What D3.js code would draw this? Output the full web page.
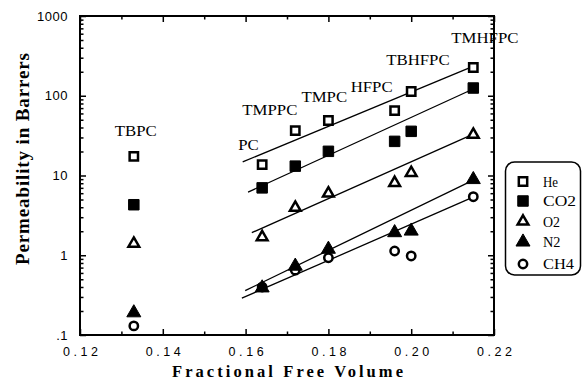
<!DOCTYPE html>
<html><head><meta charset="utf-8">
<script src="https://cdn.jsdelivr.net/npm/d3@7"></script>
<style>body{margin:0;background:#fff} svg{display:block}</style>
</head><body><svg id="c" width="582" height="383"></svg>
<script>
// ---- data ----
const polymers = ["TBPC", "PC", "TMPPC", "TMPC", "HFPC", "TBHFPC", "TMHFPC"];
const ffv  = [0.133, 0.164, 0.172, 0.180, 0.196, 0.200, 0.215];
const he   = [17.4, 13.7, 36.5, 49, 65, 113, 226];
const co2  = [4.3, 7.0, 13.1, 20.1, 26.8, 35.8, 125];
const o2   = [1.4, 1.69, 3.95, 5.96, 8.1, 10.8, 32.5];
const n2   = [0.19, 0.39, 0.73, 1.19, 1.92, 2.01, 8.9];
const ch4  = [0.13, 0.40, 0.65, 0.93, 1.13, 0.98, 5.42];
const gases = ["He", "CO2", "O2", "N2", "CH4"];
// fitted lines: start/end FFV and permeability
const fitX0 = [0.1593, 0.1606, 0.1615, 0.1599, 0.1591];
const fitX1 = [0.2155, 0.2155, 0.2150, 0.2155, 0.2155];
const fitY0 = [14.8, 6.2, 1.92, 0.36, 0.29];
const fitY1 = [240, 125, 33, 9.0, 5.5];
const xTicks = [0.12, 0.14, 0.16, 0.18, 0.20, 0.22];
const xMinor = [0.13, 0.15, 0.17, 0.19, 0.21];
const yTicks = [0.1, 1, 10, 100, 1000];
const yTickLabels = [".1", "1", "10", "100", "1000"];

// ---- layout ----
const L = 80, R = 494, T = 16, B = 335;
const svg = d3.select("#c");
const x = d3.scaleLinear().domain([0.12, 0.22]).range([L, R]);
const y = d3.scaleLog().domain([0.1, 1000]).range([B, T]);

const yMinor = [];
[0.1, 1, 10, 100].forEach(d => { for (let k = 2; k <= 9; k++) yMinor.push(d * k); });

function styleAxis(g) {
  g.select(".domain").remove();
  g.selectAll("line").attr("stroke", "#000").attr("stroke-width", 1.5);
}
const sans = "'Liberation Sans', Arial, sans-serif";
// left
svg.append("g").attr("transform", `translate(${L},0)`)
  .call(d3.axisLeft(y).tickValues(yTicks).tickSize(-6).tickPadding(12)
    .tickFormat((d, i) => yTickLabels[i]))
  .call(styleAxis)
  .call(g => g.selectAll("text").attr("font-family", sans)
    .attr("font-size", 13).attr("fill", "#000").attr("letter-spacing", "0.5px"));
svg.append("g").attr("transform", `translate(${L},0)`)
  .call(d3.axisLeft(y).tickValues(yMinor).tickSize(-3.5).tickFormat(""))
  .call(styleAxis);
// right
svg.append("g").attr("transform", `translate(${R},0)`)
  .call(d3.axisRight(y).tickValues(yTicks).tickSize(-6).tickFormat(""))
  .call(styleAxis);
svg.append("g").attr("transform", `translate(${R},0)`)
  .call(d3.axisRight(y).tickValues(yMinor).tickSize(-3.5).tickFormat(""))
  .call(styleAxis);
// bottom
svg.append("g").attr("transform", `translate(0,${B})`)
  .call(d3.axisBottom(x).tickValues(xTicks).tickSize(-6).tickPadding(12)
    .tickFormat(d3.format(".2f")))
  .call(styleAxis)
  .call(g => g.selectAll("text").attr("font-family", sans)
    .attr("font-size", 12.5).attr("fill", "#000")
    .attr("textLength", 35).attr("lengthAdjust", "spacing"));
svg.append("g").attr("transform", `translate(0,${B})`)
  .call(d3.axisBottom(x).tickValues(xMinor).tickSize(-3.5).tickFormat(""))
  .call(styleAxis);
// top
svg.append("g").attr("transform", `translate(0,${T})`)
  .call(d3.axisTop(x).tickValues(xTicks).tickSize(-6).tickFormat(""))
  .call(styleAxis);
svg.append("g").attr("transform", `translate(0,${T})`)
  .call(d3.axisTop(x).tickValues(xMinor).tickSize(-3.5).tickFormat(""))
  .call(styleAxis);

// frame
svg.append("rect").attr("x", L).attr("y", T).attr("width", R - L).attr("height", B - T)
  .attr("fill", "none").attr("stroke", "#000").attr("stroke-width", 2);

// fit lines
gases.forEach((gname, i) => {
  svg.append("line")
    .attr("x1", x(fitX0[i])).attr("y1", y(fitY0[i]))
    .attr("x2", x(fitX1[i])).attr("y2", y(fitY1[i]))
    .attr("stroke", "#000").attr("stroke-width", 1.3);
});

// markers
const series = [he, co2, o2, n2, ch4];
const symType = [d3.symbolSquare, d3.symbolSquare, d3.symbolTriangle, d3.symbolTriangle, d3.symbolCircle];
const symSize = [70, 110, 50, 85, 55];
const filled = [false, true, false, true, false];
function drawSym(g, i, cx, cy) {
  g.append("path")
    .attr("d", d3.symbol().type(symType[i]).size(symSize[i])())
    .attr("transform", `translate(${cx},${cy})`)
    .attr("fill", filled[i] ? "#000" : "#fff")
    .attr("stroke", "#000").attr("stroke-width", filled[i] ? 1 : 2.5)
    .attr("stroke-linejoin", "miter");
}
const order = [4, 3, 2, 1, 0];
order.forEach(i => {
  series[i].forEach((v, j) => drawSym(svg, i, x(ffv[j]), y(v)));
});

// polymer labels (offset from He point)
const labDx = [-19, -24, -53, -27, -44, -25, -22];
const labDy = [-20, -15, -16, -18, -19, -27, -25];
const serif = "'Liberation Serif', 'Times New Roman', serif";
polymers.forEach((p, j) => {
  const px = x(ffv[j]) + labDx[j], py = y(he[j]) + labDy[j];
  svg.append("text").text(p)
    .attr("transform", `translate(${px},${py}) scale(1.2,1)`)
    .attr("font-family", serif).attr("font-size", 14).attr("fill", "#000");
});

// legend
const lg = svg.append("g");
lg.append("rect").attr("x", 505.5).attr("y", 162).attr("width", 75).attr("height", 113)
  .attr("rx", 9).attr("fill", "#fff").attr("stroke", "#000").attr("stroke-width", 1.5);
const legY = [181.5, 201, 221.5, 242, 264];
const legW = [15, 33, 17, 17.5, 31];
gases.forEach((gname, i) => {
  drawSym(lg, i, 523, legY[i]);
  lg.append("text").text(gname).attr("x", 543).attr("y", legY[i] + 5)
    .attr("font-family", serif).attr("font-size", 14).attr("fill", "#000")
    .attr("textLength", legW[i]).attr("lengthAdjust", "spacingAndGlyphs");
});

// axis titles
svg.append("text").text("Fractional Free Volume")
  .attr("x", 172).attr("y", 377)
  .attr("font-family", serif).attr("font-weight", "bold").attr("font-size", 16.5)
  .attr("textLength", 231).attr("lengthAdjust", "spacing").attr("fill", "#000");
svg.append("text").text("Permeability in Barrers")
  .attr("transform", "translate(29,265) rotate(-90)")
  .attr("font-family", serif).attr("font-weight", "bold").attr("font-size", 19)
  .attr("textLength", 212).attr("lengthAdjust", "spacing").attr("fill", "#000");
</script></body></html>
